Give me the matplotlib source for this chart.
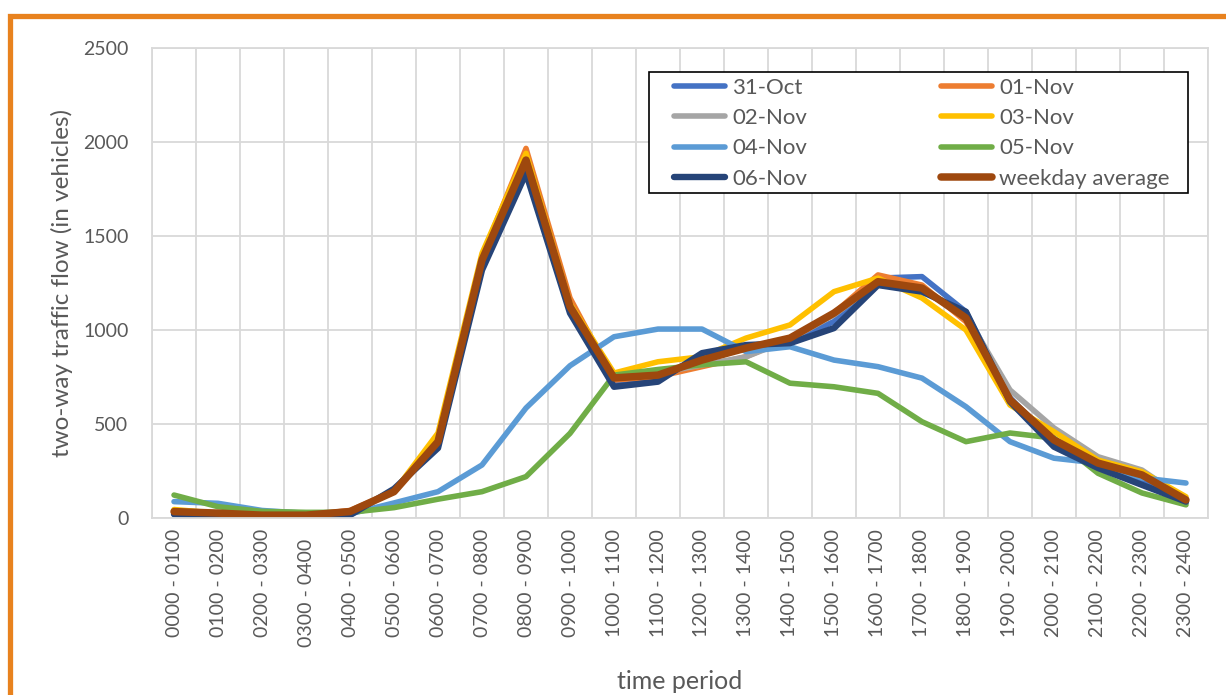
import numpy as np
import matplotlib
matplotlib.use("Agg")
import matplotlib.pyplot as plt
from matplotlib.patches import Rectangle

plt.rcParams["font.family"] = ["Lato", "DejaVu Sans"]

periods = ["0000 - 0100", "0100 - 0200", "0200 - 0300", "0300 - 0400  ",
           "0400 - 0500", "0500 - 0600", "0600 - 0700", "0700 - 0800",
           "0800 - 0900", "0900 - 1000", "1000 - 1100", "1100 - 1200",
           "1200 - 1300", "1300 - 1400", "1400 - 1500", "1500 - 1600",
           "1600 - 1700", "1700 - 1800", "1800 - 1900", "1900 - 2000",
           "2000 - 2100", "2100 - 2200", "2200 - 2300", "2300 - 2400"]

oct31 = [25, 15, 10, 10, 20, 150, 400, 1350, 1890, 1100, 720, 740,
         850, 900, 940, 1045, 1276, 1284, 1097, 640, 400, 280, 200, 80]
nov01 = [40, 25, 15, 15, 40, 140, 410, 1390, 1966, 1170, 734, 752,
         805, 858, 957, 1090, 1293, 1239, 1044, 630, 420, 300, 230, 100]
nov02 = [35, 20, 15, 15, 30, 145, 420, 1380, 1930, 1130, 745, 770,
         814, 857, 950, 1080, 1250, 1220, 1080, 681, 479, 326, 255, 96]
nov03 = [45, 25, 15, 10, 30, 140, 452, 1408, 1940, 1140, 771, 831,
         858, 957, 1027, 1204, 1276, 1170, 1000, 601, 459, 308, 246, 113]
nov04 = [87, 78, 40, 25, 22, 80, 140, 282, 585, 810, 964, 1005,
         1005, 885, 911, 840, 805, 744, 592, 406, 318, 292, 213, 186]
nov05 = [122, 60, 35, 30, 30, 55, 100, 140, 220, 450, 760, 790,
         815, 831, 717, 698, 663, 512, 406, 452, 425, 238, 133, 70]
nov06 = [20, 12, 8, 8, 15, 155, 372, 1319, 1834, 1090, 698, 725,
         877, 920, 930, 1010, 1239, 1204, 1097, 619, 379, 266, 176, 87]
weekday_avg = [34, 26, 15, 15, 34, 140, 406, 1372, 1904, 1124, 745, 760,
               840, 904, 957, 1090, 1257, 1223, 1064, 628, 415, 292, 229, 96]

series = [
    ("31-Oct", oct31, "#4472C4", 4.0),
    ("01-Nov", nov01, "#ED7D31", 4.0),
    ("02-Nov", nov02, "#A5A5A5", 4.0),
    ("03-Nov", nov03, "#FFC000", 4.0),
    ("04-Nov", nov04, "#5B9BD5", 4.0),
    ("05-Nov", nov05, "#70AD47", 4.0),
    ("06-Nov", nov06, "#264478", 4.6),
    ("weekday average", weekday_avg, "#9E480E", 5.4),
]

text_grey = "#595959"
grid_grey = "#D9D9D9"

fig = plt.figure(figsize=(12.26, 6.95), dpi=100)
ax = fig.add_axes([0.124, 0.2547, 0.8613, 0.6762])

x = np.arange(len(periods))
lines = {}
for name, vals, color, lw in series:
    (ln,) = ax.plot(x, vals, color=color, lw=lw, label=name,
                    solid_capstyle="round", solid_joinstyle="round")
    lines[name] = ln

ax.set_xlim(-0.5, len(periods) - 0.5)
ax.set_ylim(0, 2500)
ax.set_yticks(np.arange(0, 2501, 500))
ax.set_xticks(x)
ax.set_xticklabels(periods, rotation=90, va="top")
ax.set_xticks(np.arange(-0.5, len(periods)), minor=True)
ax.grid(which="minor", axis="x", color=grid_grey, lw=1.3)
ax.grid(which="major", axis="y", color=grid_grey, lw=1.3)
ax.set_axisbelow(True)
ax.tick_params(which="both", length=0)
ax.tick_params(axis="y", labelsize=14, labelcolor=text_grey, pad=17)
ax.tick_params(axis="x", labelsize=14, labelcolor=text_grey, pad=8)
for s in ax.spines.values():
    s.set_color(grid_grey)
    s.set_linewidth(1.3)

ax.set_ylabel("two-way traffic flow (in vehicles)", fontsize=17.5,
              color=text_grey, va="center")
ax.yaxis.set_label_coords(-0.085, 0.5)
ax.set_xlabel("time period", fontsize=18, color=text_grey, va="center")
ax.xaxis.set_label_coords(0.5, -0.347)

# legend: two columns filled row by row, framed by a separate box
# so the side padding can be wider than the top/bottom padding
order = ["31-Oct", "02-Nov", "04-Nov", "06-Nov",
         "01-Nov", "03-Nov", "05-Nov", "weekday average"]
leg = ax.legend([lines[n] for n in order], order, ncol=2, loc="upper left",
                bbox_to_anchor=(0.4943, 0.5, 0.4697, 0.4372), mode="expand",
                borderaxespad=0, borderpad=0, fontsize=16, handlelength=2.3,
                handletextpad=0.33, labelspacing=0.47, frameon=False)
for t in leg.get_texts():
    t.set_color(text_grey)
ax.add_patch(Rectangle((0.4706, 0.6915), 0.5104, 0.2575, transform=ax.transAxes,
                       facecolor="white", edgecolor="black", lw=1.2, zorder=4))
leg.set_zorder(5)

# orange frame, cut off at the right and bottom edges
fig.add_artist(Rectangle((9.5 / 1226, -0.2), 1.5, 0.2 + 1 - 16 / 695,
                         transform=fig.transFigure, fill=False,
                         edgecolor="#E8821E", lw=3.8, clip_on=False))

fig.savefig("out.png", dpi=100)
